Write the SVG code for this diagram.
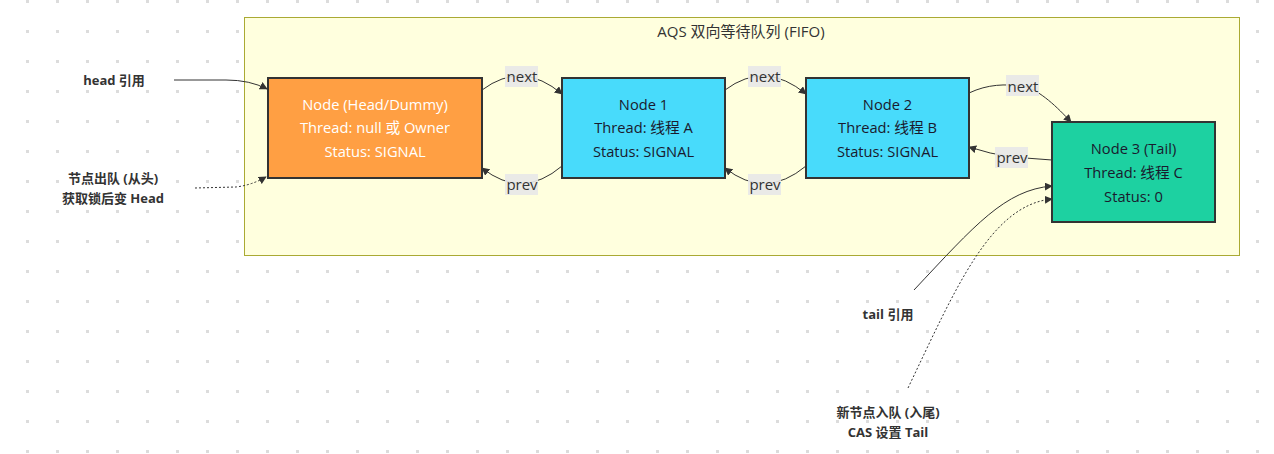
<svg xmlns="http://www.w3.org/2000/svg" width="1274" height="454" viewBox="0 0 1274 454">
<style>
.nt{font-family:"Open Sans","Liberation Sans","Noto Sans CJK SC",sans-serif;font-size:14.7px;text-anchor:middle;dominant-baseline:central}
.lbl{font-family:"Open Sans","Liberation Sans","Noto Sans CJK SC",sans-serif;font-size:13px;font-weight:bold;fill:#333;text-anchor:middle;dominant-baseline:central}
.el{font-family:"Open Sans","Liberation Sans","Noto Sans CJK SC",sans-serif;font-size:15px;fill:#333;text-anchor:middle;dominant-baseline:central}
.elbg{fill:#e8e8e8;opacity:0.9}
.node{stroke:#333;stroke-width:2}
.edge{fill:none;stroke:#333;stroke-width:1}
.dot{stroke-dasharray:2,2}
</style>
<defs>
<pattern id="grid" patternUnits="userSpaceOnUse" x="26" y="30" width="30" height="30">
<rect x="0" y="0" width="3" height="3" fill="#dcdcdc"/>
</pattern>
<marker id="arr" viewBox="0 0 10 10" refX="9" refY="5" markerWidth="8" markerHeight="8" markerUnits="userSpaceOnUse" orient="auto">
<path d="M0,0 L10,5 L0,10 z" fill="#333"/>
</marker>
</defs>
<rect width="1274" height="454" fill="#fff"/>
<rect width="1274" height="454" fill="url(#grid)"/>
<g id="cluster">
<rect x="244.5" y="17.5" width="995" height="238" fill="#ffffde" stroke="#aaaa33" stroke-width="1"/>
<text class="el" x="741" y="31">AQS 双向等待队列 (FIFO)</text>
</g>
<g id="connectors">
<path class="edge" d="M174,80 L226,80 Q250,80 267,89" marker-end="url(#arr)"/>
<path class="edge dot" d="M195,188 L236,187 Q252,185 266,177" marker-end="url(#arr)"/>
<path class="edge" d="M482,90 Q522,60 562,94" marker-end="url(#arr)"/>
<path class="edge" d="M562,166 Q522,200 482,168" marker-end="url(#arr)"/>
<path class="edge" d="M725,90 Q765,60 806,94" marker-end="url(#arr)"/>
<path class="edge" d="M806,166 Q765,200 725,168" marker-end="url(#arr)"/>
<path class="edge" d="M969,93 C988,84 1005,84 1023,86 C1040,90 1058,108 1071,122" marker-end="url(#arr)"/>
<path class="edge" d="M1052,160 L1012,157 Q990,154 969,147" marker-end="url(#arr)"/>
<path class="edge" d="M914,290 C975,225 1005,190 1052,186" marker-end="url(#arr)"/>
<path class="edge dot" d="M908,388 C955,290 990,205 1052,199" marker-end="url(#arr)"/>
<g id="edge-labels">
<rect class="elbg" x="505" y="66" width="33" height="21"/><text class="el" x="522" y="76">next</text>
<rect class="elbg" x="505" y="174" width="33" height="21"/><text class="el" x="522" y="184">prev</text>
<rect class="elbg" x="748" y="66" width="33" height="21"/><text class="el" x="765" y="76">next</text>
<rect class="elbg" x="748" y="174" width="33" height="21"/><text class="el" x="765" y="184">prev</text>
<rect class="elbg" x="1006" y="75" width="33" height="21"/><text class="el" x="1023" y="86">next</text>
<rect class="elbg" x="995" y="147" width="33" height="21"/><text class="el" x="1012" y="157">prev</text>
</g>
</g>
<g id="head-ref"><text class="lbl" x="114" y="80">head 引用</text></g>
<g id="dequeue"><text class="lbl" x="113" y="178">节点出队 (从头)</text><text class="lbl" x="113" y="198">获取锁后变 Head</text></g>
<g id="tail-ref"><text class="lbl" x="888" y="314">tail 引用</text></g>
<g id="enqueue"><text class="lbl" x="888" y="412">新节点入队 (入尾)</text><text class="lbl" x="888" y="432">CAS 设置 Tail</text></g>
<g id="node-head">
<rect class="node" x="268" y="78" width="214" height="100" fill="#ff9f43"/>
<text class="nt" x="375" y="104" fill="#fff">Node (Head/Dummy)</text>
<text class="nt" x="375" y="127" fill="#fff">Thread: null 或 Owner</text>
<text class="nt" x="375" y="151" fill="#fff">Status: SIGNAL</text>
</g>
<g id="node-1">
<rect class="node" x="562" y="78" width="163" height="100" fill="#48dbfb"/>
<text class="nt" x="643.5" y="104" fill="#1a1a2e">Node 1</text>
<text class="nt" x="643.5" y="127" fill="#1a1a2e">Thread: 线程 A</text>
<text class="nt" x="643.5" y="151" fill="#1a1a2e">Status: SIGNAL</text>
</g>
<g id="node-2">
<rect class="node" x="806" y="78" width="163" height="100" fill="#48dbfb"/>
<text class="nt" x="887.5" y="104" fill="#1a1a2e">Node 2</text>
<text class="nt" x="887.5" y="127" fill="#1a1a2e">Thread: 线程 B</text>
<text class="nt" x="887.5" y="151" fill="#1a1a2e">Status: SIGNAL</text>
</g>
<g id="node-3">
<rect class="node" x="1052" y="122" width="163" height="100" fill="#1dd1a1"/>
<text class="nt" x="1133.5" y="148" fill="#1a1a2e">Node 3 (Tail)</text>
<text class="nt" x="1133.5" y="172" fill="#1a1a2e">Thread: 线程 C</text>
<text class="nt" x="1133.5" y="196" fill="#1a1a2e">Status: 0</text>
</g>
</svg>
